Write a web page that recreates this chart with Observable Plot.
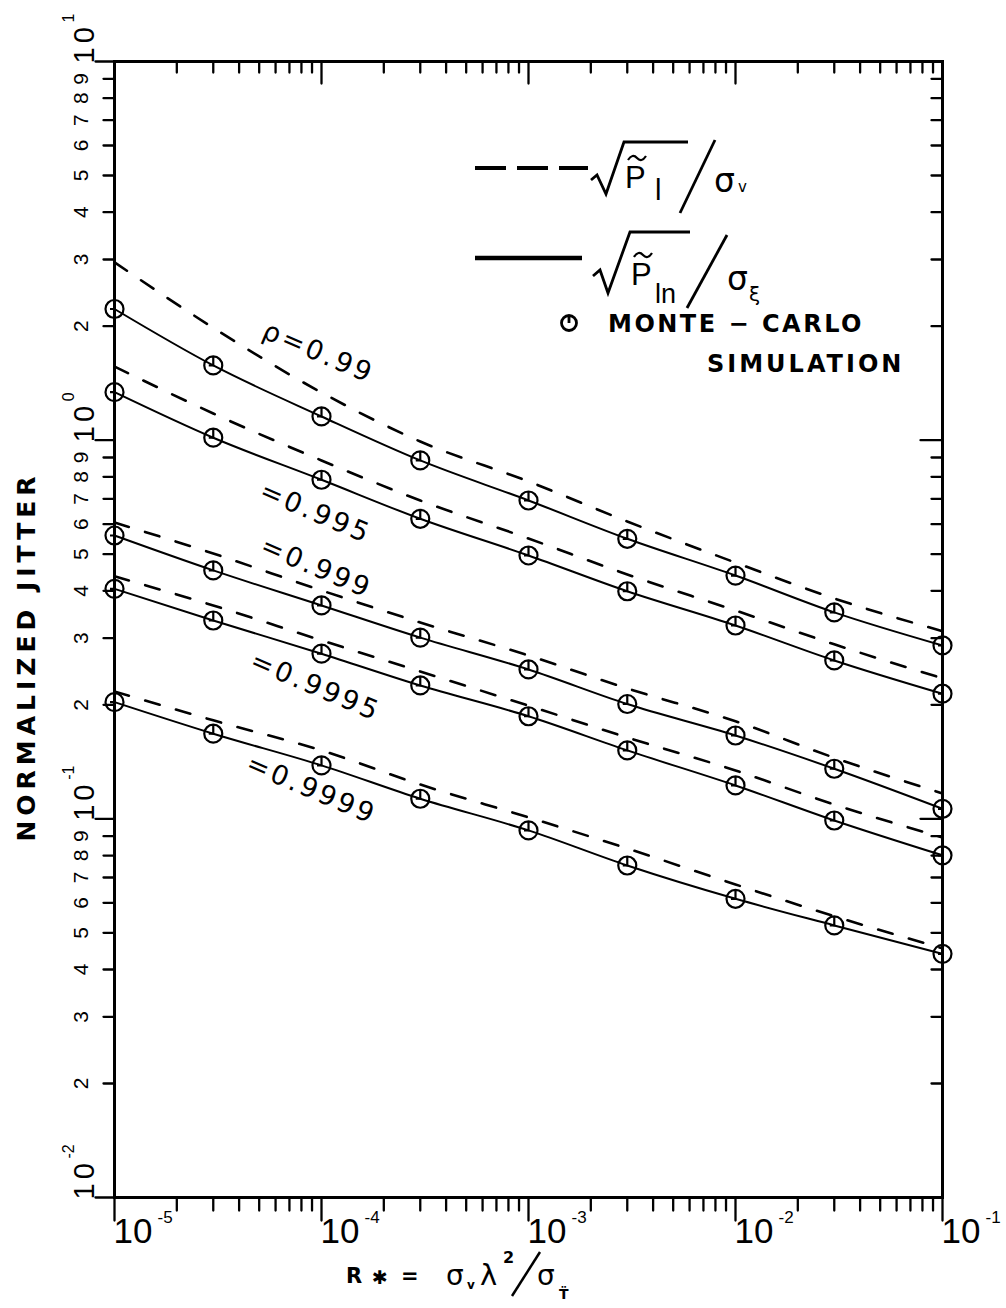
<!DOCTYPE html>
<html><head><meta charset="utf-8">
<script src="https://cdn.jsdelivr.net/npm/d3@7"></script>
<script src="https://cdn.jsdelivr.net/npm/@observablehq/plot@0.6"></script>
<style>body{margin:0;background:#fff;} #chart svg{display:block;}</style>
</head><body><div id="chart"></div>
<script>
// ---- data ----
const rStar = [1e-5, 3e-5, 1e-4, 3e-4, 1e-3, 3e-3, 1e-2, 3e-2, 1e-1];
const rhoValues = ["0.99", "0.995", "0.999", "0.9995", "0.9999"];
// solid: sqrt(P1n)/sigma_xi  (Monte-Carlo circles lie on these)
const solid099   = [2.22, 1.575, 1.155, 0.884, 0.693, 0.549, 0.439, 0.351, 0.287];
const solid0995  = [1.339, 1.015, 0.786, 0.620, 0.496, 0.399, 0.324, 0.262, 0.214];
const solid0999  = [0.560, 0.453, 0.366, 0.301, 0.248, 0.201, 0.166, 0.1356, 0.1063];
const solid09995 = [0.405, 0.334, 0.273, 0.225, 0.1866, 0.1516, 0.1225, 0.0990, 0.0801];
const solid09999 = [0.2033, 0.1678, 0.1384, 0.1130, 0.0932, 0.0753, 0.0615, 0.0523, 0.0440];
// dashed: sqrt(P1)/sigma_v
const dashed099   = [2.95, 1.98, 1.336, 0.992, 0.778, 0.610, 0.475, 0.382, 0.313];
const dashed0995  = [1.565, 1.176, 0.884, 0.693, 0.550, 0.442, 0.355, 0.289, 0.235];
const dashed0999  = [0.606, 0.502, 0.401, 0.330, 0.270, 0.221, 0.181, 0.145, 0.1167];
const dashed09995 = [0.437, 0.366, 0.296, 0.245, 0.199, 0.164, 0.1342, 0.1091, 0.0893];
const dashed09999 = [0.217, 0.182, 0.1516, 0.1232, 0.1009, 0.0835, 0.0671, 0.0553, 0.0455];
// curve annotations (data coordinates)
const labelText = ["ρ=0.99", "=0.995", "=0.999", "=0.9995", "=0.9999"];
const labelX = [9.67e-5, 9.36e-5, 9.46e-5, 9.36e-5, 8.95e-5];
const labelY = [1.704, 0.644, 0.461, 0.2237, 0.1196];
// axes
const decadesX = [1e-5, 1e-4, 1e-3, 1e-2, 1e-1];
const expX = ["-5", "-4", "-3", "-2", "-1"];
const decadesY = [1e-2, 1e-1, 1, 10];
const expY = ["-2", "-1", "0", "1"];
const minorDigits = [2, 3, 4, 5, 6, 7, 8, 9];

// ---- build tables ----
const solids = [solid099, solid0995, solid0999, solid09995, solid09999];
const dashes = [dashed099, dashed0995, dashed0999, dashed09995, dashed09999];
const solidRows = rhoValues.flatMap((r, i) => rStar.map((x, j) => ({x, y: solids[i][j], rho: r})));
const dashedRows = rhoValues.flatMap((r, i) => rStar.map((x, j) => ({x, y: dashes[i][j], rho: r})));
const labels = labelText.map((t, i) => ({t, x: labelX[i], y: labelY[i]}));
const minorX = decadesX.slice(0, -1).flatMap(d => minorDigits.map(k => k * d));
const minorYRows = decadesY.slice(0, -1).flatMap(d => minorDigits.map(k => ({v: k * d, k})));
const minorY = minorYRows.map(d => d.v);

const W = 1006, H = 1308;
const tickDown = {draw(c, l) { c.moveTo(0, 0); c.lineTo(0, l); }};
const tickLeft = {draw(c, l) { c.moveTo(0, 0); c.lineTo(-l, 0); }};
const mcSymbol = {draw(c, size) {
  const r = Math.sqrt(size / Math.PI);
  c.moveTo(r, 0); c.arc(0, 0, r, 0, 2 * Math.PI);
  c.moveTo(0, -r); c.lineTo(0, 0); c.lineTo(-r * 0.5, 0);
}};
const tk = {stroke: "black", strokeWidth: 2.3, anchor: "start"};
const LS = "Liberation Sans";

const plot = Plot.plot({
  width: W, height: H,
  marginLeft: 114, marginRight: 64, marginTop: 61, marginBottom: 111,
  x: {type: "log", domain: [1e-5, 1e-1], axis: null},
  y: {type: "log", domain: [1e-2, 1e1], axis: null},
  style: {fontFamily: "'DejaVu Sans', sans-serif", background: "white", color: "black"},
  marks: [
    Plot.line(dashedRows, {x: "x", y: "y", z: "rho", stroke: "black", strokeWidth: 2.6, strokeDasharray: "15,17", curve: "monotone-x"}),
    Plot.line(solidRows, {x: "x", y: "y", z: "rho", stroke: "black", strokeWidth: 2, curve: "monotone-x"}),
    Plot.dot(solidRows, {x: "x", y: "y", symbol: mcSymbol, r: 9, stroke: "black", strokeWidth: 2.2, fill: "none"}),
    Plot.frame({stroke: "black", strokeWidth: 3}),
    // bottom ticks (outward)
    Plot.vector(minorX, {x: d => d, y: () => 1e-2, length: 13, shape: tickDown, ...tk}),
    Plot.vector(decadesX, {x: d => d, y: () => 1e-2, length: 23, shape: tickDown, ...tk}),
    // top ticks (inward)
    Plot.vector(minorX, {x: d => d, y: () => 10, length: 11, shape: tickDown, ...tk}),
    Plot.vector(decadesX, {x: d => d, y: () => 10, length: 22, shape: tickDown, ...tk}),
    // left ticks (outward)
    Plot.vector(minorY, {y: d => d, x: () => 1e-5, length: 11, shape: tickLeft, ...tk}),
    Plot.vector(decadesY, {y: d => d, x: () => 1e-5, length: 19, shape: tickLeft, ...tk}),
    // right ticks (inward)
    Plot.vector(minorY, {y: d => d, x: () => 1e-1, length: 11, shape: tickLeft, ...tk}),
    Plot.vector(decadesY, {y: d => d, x: () => 1e-1, length: 22, shape: tickLeft, ...tk}),
    // x tick labels
    Plot.text(decadesX, {x: d => d, y: () => 1e-2, text: () => "10", dy: 45, dx: -1, textAnchor: "start", lineAnchor: "bottom", fontSize: 35, fontFamily: LS}),
    Plot.text(decadesX, {x: d => d, y: () => 1e-2, text: (d, i) => expX[i], dy: 25, dx: 43, textAnchor: "start", lineAnchor: "bottom", fontSize: 17, fontFamily: LS}),
    // y tick labels
    Plot.text(decadesY, {y: d => d, x: () => 1e-5, text: () => "10", rotate: -90, dx: -21, dy: 2, textAnchor: "start", lineAnchor: "bottom", fontSize: 29, fontFamily: LS}),
    Plot.text(decadesY, {y: d => d, x: () => 1e-5, text: (d, i) => expY[i], rotate: -90, dx: -41, dy: -39, textAnchor: "start", lineAnchor: "bottom", fontSize: 16, fontFamily: LS}),
    Plot.text(minorYRows, {y: "v", x: () => 1e-5, text: d => String(d.k), rotate: -90, dx: -27, textAnchor: "middle", lineAnchor: "bottom", fontSize: 21, fontFamily: LS}),
    // axis title
    Plot.text(["NORMALIZED JITTER"], {frameAnchor: "left", text: d => d, rotate: -90, dx: -88, dy: 27, fontWeight: "bold", fontSize: 25, lineAnchor: "middle", textAnchor: "middle"}),
    // curve labels
    Plot.text(labels, {x: "x", y: "y", text: "t", rotate: 23, fontSize: 27, textAnchor: "middle", lineAnchor: "middle"})
  ]
});

const svg = d3.select(plot);
svg.selectAll("text").filter(function() { return /^(ρ|=)/.test(this.textContent); }).attr("letter-spacing", 3);
svg.selectAll("text").filter(function() { return this.textContent === "NORMALIZED JITTER"; }).attr("letter-spacing", 5);
svg.selectAll("text").filter(function() { return this.textContent === "10" && /rotate/.test(this.getAttribute("transform") || ""); }).attr("letter-spacing", 4);

// ---- legend ----
const ff = "'DejaVu Sans', sans-serif";
const lg = svg.append("g").attr("class", "legend").attr("text-anchor", "start").attr("fill", "black");
const tilde = (cx, cy) => `M${cx - 9},${cy + 2} Q${cx - 4.5},${cy - 5} ${cx},${cy} Q${cx + 4.5},${cy + 5} ${cx + 9},${cy - 2}`;
const stroke = (sel, w) => sel.attr("fill", "none").attr("stroke", "black").attr("stroke-width", w);
// row 1: dashed
stroke(lg.append("line").attr("x1", 475).attr("y1", 168).attr("x2", 588).attr("y2", 168), 4).attr("stroke-dasharray", "31,11");
stroke(lg.append("path").attr("d", "M591,180 L597,175 L606,194 L624,142 L688,142"), 2.8);
lg.append("text").attr("x", 625).attr("y", 188).attr("font-family", LS).attr("font-size", 31).text("P");
stroke(lg.append("path").attr("d", tilde(637, 158)), 2.2);
lg.append("text").attr("x", 655).attr("y", 200).attr("font-family", LS).attr("font-size", 29).text("l");
stroke(lg.append("line").attr("x1", 680).attr("y1", 213).attr("x2", 715).attr("y2", 140), 2.8);
lg.append("text").attr("x", 714).attr("y", 192).attr("font-family", ff).attr("font-size", 33).text("σ");
lg.append("text").attr("x", 738).attr("y", 192).attr("font-family", ff).attr("font-size", 15).text("v");
// row 2: solid
stroke(lg.append("line").attr("x1", 475).attr("y1", 258).attr("x2", 582).attr("y2", 258), 4.5);
stroke(lg.append("path").attr("d", "M593,276 L600,270 L608,293 L630,232 L690,232"), 2.8);
lg.append("text").attr("x", 631).attr("y", 285).attr("font-family", LS).attr("font-size", 31).text("P");
stroke(lg.append("path").attr("d", tilde(643, 255)), 2.2);
lg.append("text").attr("x", 655).attr("y", 303).attr("font-family", LS).attr("font-size", 27).text("ln");
stroke(lg.append("line").attr("x1", 687).attr("y1", 308).attr("x2", 727).attr("y2", 235), 2.8);
lg.append("text").attr("x", 727).attr("y", 290).attr("font-family", ff).attr("font-size", 33).text("σ");
lg.append("text").attr("x", 749).attr("y", 301).attr("font-family", ff).attr("font-size", 20).text("ξ");
// row 3: Monte-Carlo symbol
stroke(lg.append("circle").attr("cx", 569).attr("cy", 323).attr("r", 7.5), 2.8);
stroke(lg.append("path").attr("d", "M569,315.5 L569,323"), 2.8);
lg.append("text").attr("x", 608).attr("y", 332).attr("font-family", ff).attr("font-weight", "bold").attr("font-size", 24).attr("letter-spacing", 2.5).text("MONTE − CARLO");
lg.append("text").attr("x", 707).attr("y", 372).attr("font-family", ff).attr("font-weight", "bold").attr("font-size", 24).attr("letter-spacing", 3).text("SIMULATION");

// ---- x axis title: R* = σv λ² / σT̈ ----
const xt = svg.append("g").attr("class", "x-title").attr("font-family", ff).attr("fill", "black").attr("text-anchor", "start");
xt.append("text").attr("x", 346).attr("y", 1283).attr("font-weight", "bold").attr("font-size", 21).text("R");
xt.append("text").attr("x", 372).attr("y", 1284).attr("font-size", 19).text("✱");
xt.append("text").attr("x", 401).attr("y", 1283).attr("font-weight", "bold").attr("font-size", 21).text("=");
xt.append("text").attr("x", 446).attr("y", 1285).attr("font-size", 28).text("σ");
xt.append("text").attr("x", 467).attr("y", 1289).attr("font-size", 12).attr("font-weight", "bold").text("v");
xt.append("text").attr("x", 480).attr("y", 1285).attr("font-size", 29).text("λ");
xt.append("text").attr("x", 503).attr("y", 1263).attr("font-size", 16).attr("font-weight", "bold").text("2");
stroke(xt.append("line").attr("x1", 512).attr("y1", 1296).attr("x2", 540).attr("y2", 1252), 2.5);
xt.append("text").attr("x", 537).attr("y", 1285).attr("font-size", 28).text("σ");
xt.append("text").attr("x", 559).attr("y", 1299).attr("font-size", 14).attr("font-weight", "bold").text("T̈");

document.getElementById("chart").append(plot);
</script>
</body></html>
